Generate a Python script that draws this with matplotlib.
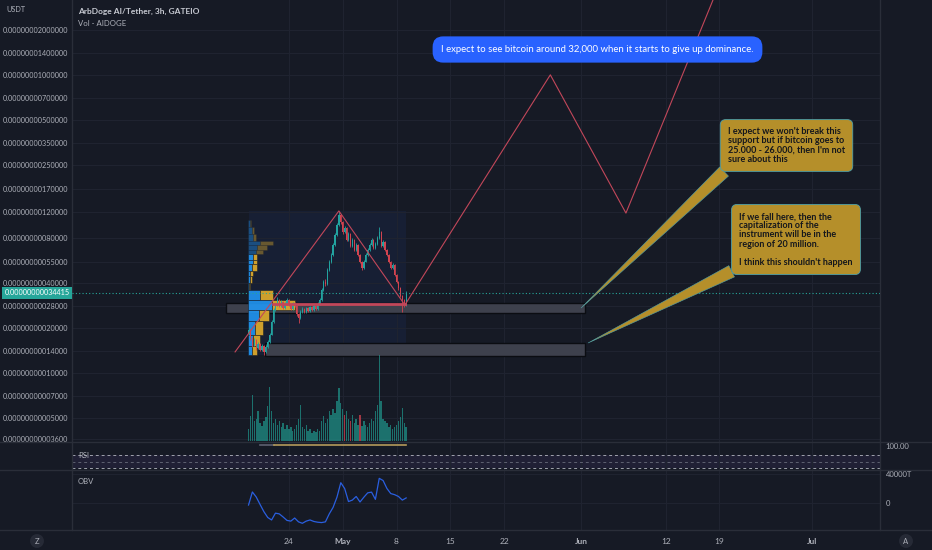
import numpy as np
import matplotlib
matplotlib.use("Agg")
import matplotlib.pyplot as plt
import matplotlib.dates as mdates
from matplotlib.lines import Line2D
from matplotlib.patches import Rectangle
from matplotlib.transforms import blended_transform_factory

plt.rcParams['font.family'] = ['Lato', 'DejaVu Sans']

BG = '#161a25'
GRID = '#1f2330'
SEP = '#2a2e39'
TXT = '#aeb1ba'
UP = '#22a3a0'
DOWN = '#d2434f'
DRAW = '#c2475a'
GOLD = '#b58f2a'

UNIT = 1e-14  # prices are kept in units of 1e-14 USDT

# ---- data ----
price_ticks = [2000000, 1400000, 1000000, 700000, 500000, 350000, 250000, 170000,
               120000, 80000, 55000, 40000, 28000, 20000, 14000, 10000, 7000, 5000, 3600]
current_price = 34415

tick_dates = ['2023-04-24', '2023-05-01', '2023-05-08', '2023-05-15', '2023-05-22',
              '2023-06-01', '2023-06-12', '2023-06-19', '2023-07-01']
tick_labels = ['24', 'May', '8', '15', '22', 'Jun', '12', '19', 'Jul']

candle_start = '2023-04-18T18:00'   # 6h candles
open0 = 18500
closes = [19400, 17100, 15400, 16600, 14700, 15600, 14200, 15100, 13800, 14900,
          16100, 18000, 21900, 26400, 28500, 30800, 28100, 29900, 27200, 29000,
          30800, 28500, 26800, 29400, 28100, 24800, 23300, 25600, 26800, 25600,
          27200, 26000, 27600, 26400, 28100, 26800, 29000, 30800, 36000, 40700,
          39500, 49000, 55500, 61700, 72100, 84100, 98200, 114600, 102900, 88100,
          93800, 77900, 85500, 71000, 77900, 66700, 72100, 61700, 55500, 50500,
          55500, 61700, 66700, 72100, 77900, 68800, 73200, 80300, 88100, 71000,
          75500, 66700, 61700, 55500, 50500, 52900, 45400, 40700, 37100, 32800,
          30800, 28500, 34415]
highs = [20200, 19800, 17500, 17200, 16900, 16100, 15900, 15500, 15300, 15400,
         16600, 18600, 22500, 27200, 29600, 32000, 31500, 30600, 30300, 29800,
         31800, 31200, 29000, 30000, 29900, 28500, 25200, 26300, 27500, 27200,
         27800, 27600, 28200, 28000, 28800, 28600, 29700, 31600, 37000, 41800,
         42500, 50500, 57500, 64000, 74500, 87000, 102000, 122000, 117000, 105000,
         97000, 95500, 88000, 87000, 80000, 79000, 74000, 73000, 63000, 56500,
         57000, 63500, 68500, 74000, 80500, 79500, 75000, 83000, 95000, 89500,
         77500, 76500, 67500, 62500, 56500, 54500, 53500, 46000, 41500, 37800,
         33500, 31500, 35500]
lows = [18000, 16700, 15000, 15100, 14300, 14400, 13900, 13900, 13100, 13500,
        14700, 15800, 17800, 21500, 26000, 28000, 27500, 27800, 26800, 26900,
        28700, 28000, 26200, 26500, 27600, 24000, 21500, 23000, 25200, 25000,
        25300, 25500, 25700, 26000, 26100, 26300, 26500, 28700, 30500, 35500,
        38500, 39000, 48000, 54500, 60500, 71000, 83000, 97000, 100000, 86000,
        86500, 76500, 76800, 69500, 70000, 65500, 65800, 60500, 54500, 49000,
        50000, 55000, 61000, 66000, 71000, 67500, 68000, 72500, 79500, 70000,
        70000, 65500, 60500, 54500, 49500, 50000, 44500, 39800, 36200, 32000,
        25600, 27500, 28000]
volumes = [12, 25, 46, 20, 22, 30, 18, 15, 20, 24, 35, 54, 30, 18, 22, 16, 20, 14,
           18, 12, 16, 12, 14, 10, 12, 16, 22, 36, 14, 12, 16, 10, 12, 8, 10, 9,
           12, 10, 20, 25, 18, 22, 30, 26, 32, 28, 40, 53, 38, 32, 26, 30, 22, 20,
           26, 18, 22, 16, 26, 15, 20, 16, 14, 18, 22, 20, 30, 36, 86, 40, 22, 20,
           18, 14, 16, 12, 14, 16, 20, 24, 33, 18, 14]
vol_red = [50, 53, 58]

obv_start = '2023-04-18T18:00'      # 12h steps, values in T
obv = [-2800, 15200, 8300, -2000, -12000, -20000, -23400, -14000, -15000, -19300,
       -24000, -25000, -20700, -26000, -28000, -25000, -23400, -25500, -26500, -27000,
       -26000, -15000, -6000, 8000, 28000, 20000, 2000, 4000, 9000, 1400,
       8000, 14000, 15000, 5000, 34000, 31000, 20000, 13000, 11500, 9000,
       4000, 7000]

# volume profile rows (price edges from top to bottom)
vp_edges = [106000, 95000, 85500, 77000, 72000, 66700, 62700, 57500, 53500, 48500,
            44300, 40000, 35700, 31000, 26200, 22100, 17900, 15200, 13100]
vp_up = [2, 4, 5, 12, 9, 8, 5, 5, 4, 2, 2, 1, 12, 24, 11, 7, 5, 4]
vp_down = [1, 2, 3, 13, 10, 7, 4, 4, 5, 3, 2, 1, 13, 23, 10, 8, 7, 5]
vp_value_area = [0, 0, 0, 0, 0, 0, 1, 1, 1, 1, 1, 1, 1, 1, 1, 1, 1, 1]

# drawings
tri_dates = ['2023-04-17T00:00', '2023-04-30T12:00', '2023-05-09T02:00']
tri_prices = [13800, 122000, 28500]
support_dates = ['2023-04-21T22:00', '2023-05-09T02:00']
support_price = 29000
path_dates = ['2023-05-09T02:00', '2023-05-28T00:00', '2023-06-06T20:00', '2023-06-19T17:00']
path_prices = [28500, 1000000, 118000, 5000000]
box1 = ('2023-04-15T19:30', '2023-06-01T12:00', 25200, 29400)
box2 = ('2023-04-20T21:00', '2023-06-01T12:00', 12900, 15850)
tip1 = ('2023-06-01T00:00', 27200)
tip2 = ('2023-06-01T22:00', 15850)

note_blue = "I expect to see bitcoin around 32,000 when it starts to give up dominance."
note1 = ("I expect we won't break this\nsupport but if bitcoin goes to\n"
         "25.000 - 26.000, then I'm not\nsure about this")
note2 = ("If we fall here, then the\ncapitalization of the\ninstrument will be in the\n"
         "region of 20 million.\n\nI think this shouldn't happen")

# ---- figure ----
W, H = 932, 550
fig = plt.figure(figsize=(W / 100, H / 100), dpi=100, facecolor=BG)


def add_ax(x0, y0, x1, y1, z):
    a = fig.add_axes([x0 / W, 1 - y1 / H, (x1 - x0) / W, (y1 - y0) / H], zorder=z)
    a.set_facecolor('none')
    for s in a.spines.values():
        s.set_visible(False)
    return a


def dn(s):
    return mdates.date2num(np.datetime64(s))


t_candle = mdates.date2num(np.datetime64(candle_start) + np.arange(len(closes)) * np.timedelta64(6, 'h'))
t_obv = mdates.date2num(np.datetime64(obv_start) + np.arange(len(obv)) * np.timedelta64(12, 'h'))
opens = [open0] + closes[:-1]
xlim = (dn('2023-03-26T19:00'), dn('2023-07-09T21:00'))
ylim = (3428, 3.18e6)
xt = [dn(d) for d in tick_dates]

# background price pane: grid, tint, boxes
ax_bg = add_ax(72, 0, 880, 442, 0)
ax_bg.set_yscale('log')
ax_bg.set_xlim(*xlim)
ax_bg.set_ylim(*ylim)
ax_bg.set_yticks(price_ticks)
ax_bg.set_yticklabels([f"{v * UNIT:.14f}" for v in price_ticks])
ax_bg.yaxis.set_minor_locator(matplotlib.ticker.NullLocator())
ax_bg.tick_params(axis='y', length=0, pad=3, labelsize=5.2, labelcolor=TXT)
ax_bg.set_xticks(xt)
ax_bg.tick_params(axis='x', length=0, labelbottom=False)
ax_bg.grid(True, color=GRID, lw=0.8)
ax_bg.add_patch(Rectangle((t_candle[0], min(lows)), t_candle[-1] - t_candle[0],
                          max(highs) - min(lows), fc='#2962ff', alpha=0.07, lw=0))
for b in (box1, box2):
    ax_bg.add_patch(Rectangle((dn(b[0]), b[2]), dn(b[1]) - dn(b[0]), b[3] - b[2],
                              fc='#3e414d', ec='#0b0d12', lw=1.0, zorder=3))

# volume
ax_vol = add_ax(72, 0, 880, 442, 1)
ax_vol.set_xlim(*xlim)
ax_vol.set_ylim(-1, 441)
ax_vol.set_xticks([])
ax_vol.set_yticks([])
vcol = [DOWN if i in vol_red else '#1f8f86' for i in range(len(volumes))]
ax_vol.bar(t_candle, volumes, width=0.18, color=vcol, alpha=0.75, lw=0)

# volume profile
ax_vp = add_ax(248, 0, 408, 442, 2)
ax_vp.set_yscale('log')
ax_vp.set_ylim(*ylim)
ax_vp.set_xlim(0, 160)
ax_vp.set_xticks([])
ax_vp.set_yticks([])
ax_vp.yaxis.set_minor_locator(matplotlib.ticker.NullLocator())
for i in range(len(vp_up)):
    top, bot = vp_edges[i], vp_edges[i + 1]
    al = 0.9 if vp_value_area[i] else 0.4
    ax_vp.barh(bot, vp_up[i], height=top - bot, left=0, align='edge',
               color='#2196f3', alpha=al, ec=BG, lw=0.4)
    ax_vp.barh(bot, vp_down[i], height=top - bot, left=vp_up[i], align='edge',
               color='#e3ae2c', alpha=al, ec=BG, lw=0.4)

# main price axes
ax = add_ax(72, 0, 880, 442, 3)
ax.set_yscale('log')
ax.set_xlim(*xlim)
ax.set_ylim(*ylim)
ax.set_xticks([])
ax.set_yticks([])
ax.yaxis.set_minor_locator(matplotlib.ticker.NullLocator())
for t, o, c, h, l in zip(t_candle, opens, closes, highs, lows):
    col = UP if c >= o else DOWN
    ax.vlines(t, l, h, color=col, lw=0.6)
    ax.bar(t, abs(c - o), bottom=min(o, c), width=0.17, color=col, lw=0)

ax.axhline(current_price, color='#26a69a', lw=0.8, ls=(0, (1, 2)))
ax.plot([dn(d) for d in tri_dates], tri_prices, color=DRAW, lw=0.8)
ax.plot([dn(d) for d in support_dates], [support_price] * 2, color=DRAW, lw=2)
ax.plot([dn(d) for d in path_dates], path_prices, color=DRAW, lw=0.8)

# price label on the left scale
tr = blended_transform_factory(fig.transFigure, ax.transData)
ax.text(37 / W, current_price, f"{current_price * UNIT:.14f}", transform=tr,
        ha='center', va='center', fontsize=5.2, color='white', clip_on=False,
        bbox=dict(boxstyle='square,pad=0.35', fc='#26a69a', ec='none'))

# notes
fig.text(597.5 / W, 1 - 49.5 / H, note_blue, ha='center', va='center', fontsize=6.9,
         color='white', bbox=dict(boxstyle='round,pad=0.9,rounding_size=1.1', fc='#2962ff', ec='none'))
for note, tip, pos in ((note1, tip1, (786.5, 404.5)), (note2, tip2, (796, 310.5))):
    ax.annotate(note, xy=(dn(tip[0]), tip[1]), xytext=pos, textcoords='figure pixels',
                ha='center', va='center', multialignment='left', fontsize=6.5,
                linespacing=1.02, fontweight='bold', color='#15171c',
                annotation_clip=False, zorder=10,
                bbox=dict(boxstyle='round,pad=0.85,rounding_size=0.6', fc=GOLD, ec='#4fa0a8', lw=0.6),
                arrowprops=dict(arrowstyle='wedge,tail_width=1.4,shrink_factor=0.5', fc=GOLD,
                                ec='#4fa0a8', lw=0.4, relpos=(0.05, 0.04), shrinkA=0, shrinkB=0))

# RSI pane
ax_rsi = add_ax(72, 442, 880, 470, 1)
ax_rsi.set_xlim(*xlim)
ax_rsi.set_ylim(23.3, 113.3)
ax_rsi.set_xticks(xt)
ax_rsi.tick_params(axis='x', length=0, labelbottom=False)
ax_rsi.grid(True, axis='x', color=GRID, lw=0.8)
ax_rsi.yaxis.tick_right()
ax_rsi.set_yticks([100])
ax_rsi.set_yticklabels(['100.00'])
ax_rsi.tick_params(axis='y', length=0, pad=4, labelsize=5.5, labelcolor=TXT)
ax_rsi.axhspan(30, 70, color='#7e57c2', alpha=0.1, lw=0)
for lvl, c in ((70, '#a0a3ad'), (50, '#5d6070'), (30, '#a0a3ad')):
    ax_rsi.axhline(lvl, color=c, lw=0.7, ls=(0, (3, 3)))
ax_rsi.plot([t_candle[6], t_candle[13]], [103.3, 103.3], color='#5d6070', lw=1.2)
ax_rsi.plot([t_candle[13], t_candle[-1]], [103.3, 103.3], color='#b59a5a', lw=1.2)

# OBV pane
ax_obv = add_ax(72, 470, 880, 530, 1)
ax_obv.set_xlim(*xlim)
ax_obv.set_ylim(-37241, 45517)
ax_obv.set_xticks(xt)
ax_obv.set_xticklabels(tick_labels)
ax_obv.tick_params(axis='x', length=0, pad=6, labelsize=6, labelcolor=TXT)
for lab in ax_obv.get_xticklabels():
    if lab.get_text() in ('May', 'Jun', 'Jul'):
        lab.set_fontweight('bold')
ax_obv.grid(True, color=GRID, lw=0.8)
ax_obv.yaxis.tick_right()
ax_obv.set_yticks([40000, 0])
ax_obv.set_yticklabels(['40000T', '0'])
ax_obv.tick_params(axis='y', length=0, pad=4, labelsize=5.5, labelcolor=TXT)
ax_obv.plot(t_obv, obv, color='#2a5fe0', lw=0.9)

# pane labels / header
fig.text(6 / W, 1 - 9 / H, 'USDT', fontsize=5.2, color=TXT, va='center')
fig.text(78 / W, 1 - 11 / H, 'ArbDoge AI/Tether, 3h, GATEIO', fontsize=6,
         fontweight='bold', color='#c9ccd4', va='center')
fig.text(78 / W, 1 - 23 / H, 'Vol - AIDOGE', fontsize=5.6, color=TXT, va='center')
fig.text(78 / W, 1 - 455 / H, 'RSI', fontsize=5.5, color=TXT, va='center')
fig.text(78 / W, 1 - 482 / H, 'OBV', fontsize=5.5, color=TXT, va='center')
for x, ch in ((37, 'Z'), (906, 'A')):
    fig.text(x / W, 1 - 541 / H, ch, fontsize=5.5, color=TXT, ha='center', va='center',
             bbox=dict(boxstyle='circle,pad=0.45', fc='#262a36', ec='none'))

# separators
for y in (442, 470, 530):
    fig.add_artist(Line2D([0, 1], [1 - y / H] * 2, color=SEP, lw=1))
for x in (72, 880):
    fig.add_artist(Line2D([x / W] * 2, [1 - 530 / H, 1], color=SEP, lw=1))

fig.savefig('out.png', dpi=100, facecolor=BG)
